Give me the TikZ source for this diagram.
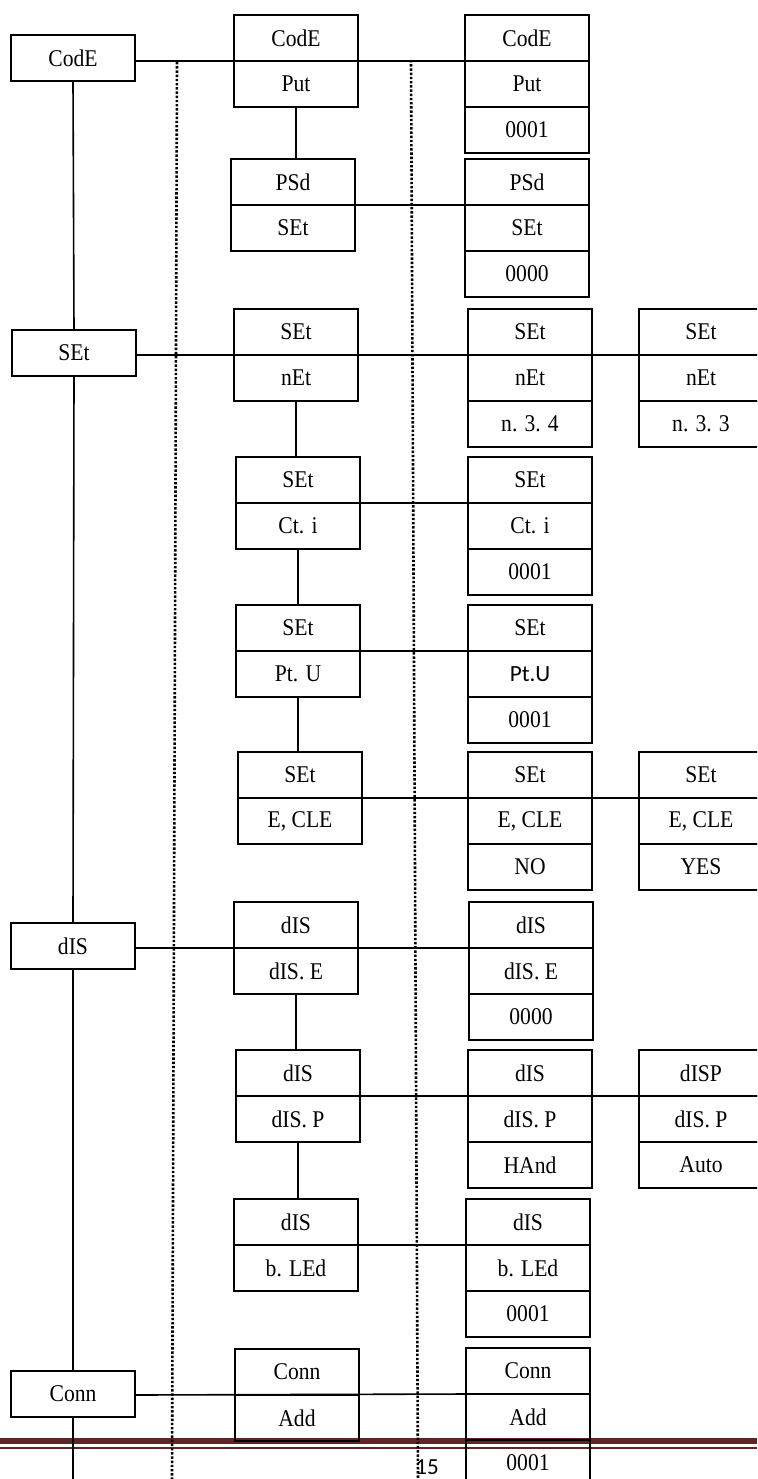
\documentclass[tikz,border=0pt]{standalone}
\usepackage{fontspec}
\setmainfont{Liberation Serif}[FakeStretch=0.9]
\newfontfamily\calibri{Carlito}
\usetikzlibrary{positioning}
\definecolor{footred}{HTML}{622423}

\tikzset{
  cell/.style={draw,line width=1pt,minimum width=62pt,minimum height=23pt,
    inner sep=0pt,outer sep=0pt,font=\fontsize{12}{14}\selectfont},
  link/.style={line width=0.8pt},
  sepline/.style={line width=1.3pt,dash pattern=on 1.2pt off 0.9pt}
}

\begin{document}
\begin{tikzpicture}[x=0.5pt,y=-0.5pt]
  \useasboundingbox (0,0) rectangle (757,1479);
  \clip (0,0) rectangle (757,1479);

  % footer rule
  \fill[footred] (0,1438) rectangle (757,1444);
  \draw[footred,line width=1pt] (0,1447.5) -- (757,1447.5);
  \node[font=\calibri\fontsize{11.5}{13}\selectfont] (page) at (427,1467) {15};

  % menu level 1
  \node[cell,anchor=north] (code) at (73,35) {CodE};
  \node[cell,anchor=north] (set) at (74,330) {SEt};
  \node[cell,anchor=north] (dis) at (73,923) {dIS};
  \node[cell,anchor=north] (conn) at (73,1371) {Conn};

  % menu level 2
  \foreach \n/\x/\y/\a/\b in {1/296/15/CodE/Put, 2/293/159/PSd/SEt,
      3/296/309/SEt/nEt, 4/298/457/SEt/{Ct. i}, 5/298/605/SEt/{Pt. U},
      6/300/752/SEt/{E, CLE}, 7/296/902/dIS/{dIS. E}, 8/298/1050/dIS/{dIS. P},
      9/296/1199/dIS/{b. LEd}, 10/297/1349/Conn/Add} {
    \node[cell,anchor=north] (m\n-1) at (\x,\y) {\a};
    \node[cell,below=0pt of m\n-1] (m\n-2) {\b};
  }

  % values
  \foreach \n/\x/\y/\a/\b/\c in {1/527/15/CodE/Put/0001, 2/527/159/PSd/SEt/0000,
      3/530/309/SEt/nEt/{n. 3. 4}, 4/530/457/SEt/{Ct. i}/0001,
      5/530/605/SEt/{\calibri\fontsize{11.6}{13}\selectfont Pt.U}/0001,
      6/530/752/SEt/{E, CLE}/NO,
      7/531/902/dIS/{dIS. E}/0000, 8/530/1050/dIS/{dIS. P}/HAnd,
      9/528/1199/dIS/{b. LEd}/0001, 10/528/1348/Conn/Add/0001} {
    \node[cell,anchor=north] (v\n-1) at (\x,\y) {\a};
    \node[cell,below=0pt of v\n-1] (v\n-2) {\b};
    \node[cell,below=0pt of v\n-2] (v\n-3) {\c};
  }
  \foreach \n/\y/\a/\b/\c in {1/309/SEt/nEt/{n. 3. 3}, 2/752/SEt/{E, CLE}/YES,
      3/1050/dISP/{dIS. P}/Auto} {
    \node[cell,anchor=north] (w\n-1) at (701,\y) {\a};
    \node[cell,below=0pt of w\n-1] (w\n-2) {\b};
    \node[cell,below=0pt of w\n-2] (w\n-3) {\c};
  }

  % dotted separators
  \coordinate (s1) at (177,62);
  \coordinate (s2) at (172,1479);
  \coordinate (s3) at (411,60);
  \coordinate (s4) at (418,1479);
  \draw[sepline] (s1) -- (s2);
  \draw[sepline] (s3) -- (s4);

  % level 1 chain
  \coordinate (bot) at (70,1479);
  \draw[link] (code.south) -- (set.north);
  \draw[link] (set.south) -- (dis.north);
  \draw[link] (dis.south) -- (conn.north);
  \draw[link] (conn.south) -- (conn.south |- bot);

  % level 2 chains
  \draw[link] (m1-2.south) -- (m1-2.south |- m2-1.north);
  \draw[link] (m3-2.south) -- (m3-2.south |- m4-1.north);
  \draw[link] (m4-2.south) -- (m4-2.south |- m5-1.north);
  \draw[link] (m5-2.south) -- (m5-2.south |- m6-1.north);
  \draw[link] (m7-2.south) -- (m7-2.south |- m8-1.north);
  \draw[link] (m8-2.south) -- (m8-2.south |- m9-1.north);

  % across
  \draw[link] (code.east |- m1-1.south) -- (v1-1.south west);
  \draw[link] (m2-1.south east) -- (v2-1.south west);
  \draw[link] (set.east |- m3-1.south) -- (w1-1.south west);
  \draw[link] (m4-1.south east) -- (v4-1.south west);
  \draw[link] (m5-1.south east) -- (v5-1.south west);
  \draw[link] (m6-1.south east) -- (w2-1.south west);
  \draw[link] (dis.east |- m7-1.south) -- (v7-1.south west);
  \draw[link] (m8-1.south east) -- (w3-1.south west);
  \draw[link] (m9-1.south east) -- (v9-1.south west);
  \draw[link] (conn.east |- m10-1.south) -- (v10-1.south west);
\end{tikzpicture}
\end{document}
